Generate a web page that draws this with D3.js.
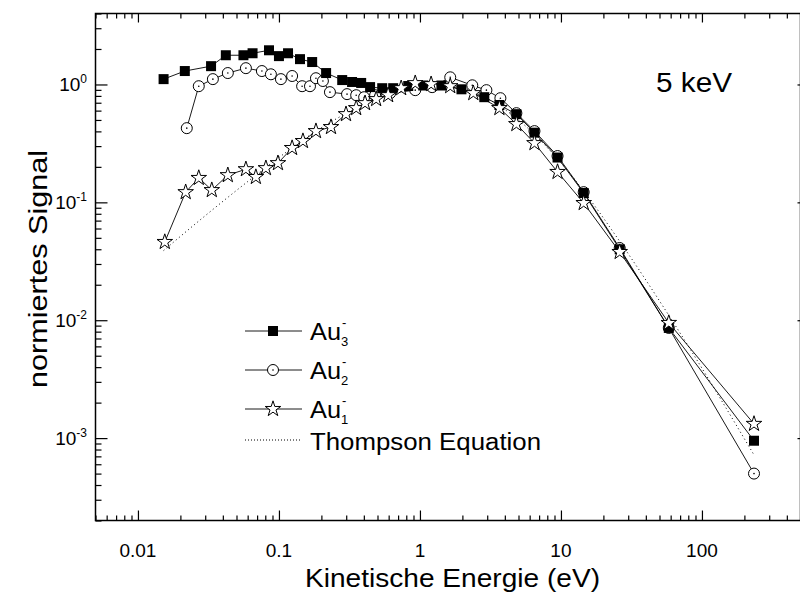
<!DOCTYPE html>
<html>
<head>
<meta charset="utf-8">
<script src="https://cdn.jsdelivr.net/npm/d3@7"></script>
<style>
  body { margin: 0; background: #fff; }
  svg text { font-family: "Liberation Sans", Arial, sans-serif; fill: #000; }
</style>
</head>
<body>
<svg id="chart"></svg>
<script>
// energies (eV) and normalised signal
const au3E = [0.0152, 0.0215, 0.033, 0.042, 0.056, 0.065, 0.085, 0.1, 0.116, 0.141, 0.172, 0.216, 0.281, 0.33, 0.383, 0.443, 0.54, 0.646, 0.826, 1.055, 1.42, 1.97, 2.86, 3.66, 4.83, 6.49, 9.46, 14.5, 26.1, 58.2, 234];
const au3S = [1.11, 1.30, 1.43, 1.77, 1.77, 1.84, 1.95, 1.74, 1.84, 1.64, 1.55, 1.25, 1.09, 1.05, 1.03, 0.95, 0.93, 0.93, 0.97, 0.98, 0.98, 0.91, 0.78, 0.67, 0.56, 0.39, 0.24, 0.12, 0.040, 0.0086, 0.00095];

const au2E = [0.0222, 0.027, 0.034, 0.0434, 0.0583, 0.0757, 0.0877, 0.1033, 0.124, 0.146, 0.166, 0.183, 0.205, 0.23, 0.304, 0.353, 0.402, 0.481, 0.615, 0.926, 1.22, 1.64, 2.35, 2.96, 3.72, 4.83, 6.49, 9.46, 14.5, 26.1, 58.2, 234];
const au2S = [0.426, 0.967, 1.11, 1.25, 1.375, 1.30, 1.22, 1.11, 1.18, 0.967, 0.967, 1.13, 1.07, 0.861, 0.828, 0.811, 0.78, 0.811, 0.844, 0.895, 0.949, 1.15, 0.984, 0.895, 0.765, 0.571, 0.402, 0.247, 0.122, 0.041, 0.0086, 0.0005];

const au1E = [0.0155, 0.0218, 0.027, 0.0334, 0.0434, 0.0583, 0.0686, 0.0808, 0.0984, 0.124, 0.148, 0.183, 0.234, 0.299, 0.353, 0.408, 0.489, 0.595, 0.736, 0.926, 1.20, 1.64, 2.39, 3.66, 4.83, 6.49, 9.46, 14.5, 26.1, 58.2, 234];
const au1S = [0.0461, 0.122, 0.161, 0.127, 0.170, 0.191, 0.164, 0.195, 0.215, 0.289, 0.331, 0.402, 0.435, 0.560, 0.630, 0.694, 0.751, 0.811, 0.930, 1.026, 1.006, 0.967, 0.844, 0.630, 0.461, 0.318, 0.181, 0.0986, 0.0379, 0.00948, 0.00132];

const thompE = [0.0152, 0.03, 0.06, 0.1, 0.2, 0.3, 0.5, 1, 1.5, 2, 3, 5, 10, 15, 26, 60, 234];
const thompS = [0.039, 0.077, 0.150, 0.24, 0.43, 0.57, 0.78, 0.98, 0.99, 0.93, 0.76, 0.50, 0.216, 0.118, 0.047, 0.0104, 0.00072];

const xTickVals = [0.01, 0.1, 1, 10, 100];
const yTickExps = [0, -1, -2, -3];
const legendNames = ["Au3", "Au2", "Au1", "Thompson Equation"];

const W = 800, H = 594;
const L = 95.5, R = 800.5, T = 13.5, B = 520.5;

const svg = d3.select("#chart").attr("width", W).attr("height", H);

const x = d3.scaleLog().domain([0.005, 500]).range([L, R]);
const y = d3.scaleLog().domain([2e-4, 4]).range([B, T]);

// minor tick lists
const xMinor = [];
for (let d = -3; d <= 2; d++) for (let m = 2; m <= 9; m++) {
  const v = m * Math.pow(10, d);
  if (v >= 0.005 && v <= 500) xMinor.push(v);
}
const yMinor = [];
for (let d = -4; d <= 0; d++) for (let m = 2; m <= 9; m++) {
  const v = m * Math.pow(10, d);
  if (v >= 2e-4 && v <= 4) yMinor.push(v);
}

function axisStyle(g) {
  g.select(".domain").remove();
  g.selectAll("line").attr("stroke", "#000").attr("stroke-width", 1.2);
  g.selectAll("text").remove();
}

// bottom
svg.append("g").attr("transform", `translate(0,${B})`)
  .call(d3.axisBottom(x).tickValues(xMinor).tickSize(-5)).call(axisStyle);
svg.append("g").attr("transform", `translate(0,${B})`)
  .call(d3.axisBottom(x).tickValues(xTickVals).tickSize(-10)).call(axisStyle);
// top
svg.append("g").attr("transform", `translate(0,${T})`)
  .call(d3.axisTop(x).tickValues(xMinor).tickSize(-5)).call(axisStyle);
svg.append("g").attr("transform", `translate(0,${T})`)
  .call(d3.axisTop(x).tickValues(xTickVals).tickSize(-9)).call(axisStyle);
// left
svg.append("g").attr("transform", `translate(${L},0)`)
  .call(d3.axisLeft(y).tickValues(yMinor).tickSize(-6)).call(axisStyle);
svg.append("g").attr("transform", `translate(${L},0)`)
  .call(d3.axisLeft(y).tickValues(yTickExps.map(e => Math.pow(10, e))).tickSize(-12)).call(axisStyle);
// right
svg.append("g").attr("transform", `translate(${R},0)`)
  .call(d3.axisRight(y).tickValues(yTickExps.map(e => Math.pow(10, e))).tickSize(-3)).call(axisStyle);

svg.append("rect").attr("x", L).attr("y", T).attr("width", R - L).attr("height", B - T)
  .attr("fill", "none").attr("stroke", "#000").attr("stroke-width", 1.5);

// tick labels
svg.append("g").selectAll("text").data(xTickVals).join("text")
  .attr("x", d => x(d)).attr("y", 557).attr("text-anchor", "middle")
  .attr("font-size", 19).text(d => d3.format("")(d));

const yl = svg.append("g").selectAll("text").data(yTickExps).join("text")
  .attr("x", 87).attr("y", d => y(Math.pow(10, d)) + 7).attr("text-anchor", "end")
  .attr("font-size", 19);
yl.append("tspan").text("10");
yl.append("tspan").attr("dy", -8).attr("font-size", 12).text(d => d === 0 ? "0" : "-" + (-d));

// axis titles
svg.append("text").attr("x", 305).attr("y", 587)
  .attr("font-size", 25).attr("textLength", 295).attr("lengthAdjust", "spacingAndGlyphs")
  .text("Kinetische Energie (eV)");
svg.append("text").attr("transform", "translate(47,388) rotate(-90)")
  .attr("font-size", 25).attr("textLength", 238).attr("lengthAdjust", "spacingAndGlyphs")
  .text("normiertes Signal");

svg.append("text").attr("x", 656).attr("y", 92).attr("font-size", 28)
  .attr("textLength", 76).attr("lengthAdjust", "spacingAndGlyphs").text("5 keV");

// lines
const plot = svg.append("g");
const line = d3.line().x(d => x(d[0])).y(d => y(d[1]));
const smooth = d3.line().x(d => x(d[0])).y(d => y(d[1])).curve(d3.curveMonotoneX);

plot.append("path").datum(thompE.map((e, i) => [e, thompS[i]]))
  .attr("d", smooth).attr("fill", "none").attr("stroke", "#000")
  .attr("stroke-width", 1).attr("stroke-dasharray", "1,3");

const au2 = au2E.map((e, i) => [e, au2S[i]]);
const au3 = au3E.map((e, i) => [e, au3S[i]]);
const au1 = au1E.map((e, i) => [e, au1S[i]]);

[au2, au3, au1].forEach(s => {
  plot.append("path").datum(s).attr("d", line).attr("fill", "none")
    .attr("stroke", "#000").attr("stroke-width", 0.9);
});

const starPath = d3.symbol(d3.symbolStar, 75)();
const sqPath = d3.symbol(d3.symbolSquare, 100)();

function drawCircle(g, cx, cy) {
  g.append("circle").attr("cx", cx).attr("cy", cy).attr("r", 5.5)
    .attr("fill", "#fff").attr("stroke", "#000").attr("stroke-width", 1);
  g.append("circle").attr("cx", cx).attr("cy", cy).attr("r", 0.8).attr("fill", "#000");
}
function drawSquare(g, cx, cy) {
  g.append("path").attr("d", sqPath).attr("transform", `translate(${cx},${cy})`).attr("fill", "#000");
}
function drawStar(g, cx, cy) {
  g.append("path").attr("d", starPath).attr("transform", `translate(${cx},${cy})`)
    .attr("fill", "#fff").attr("stroke", "#000").attr("stroke-width", 1);
}

au2.forEach(d => drawCircle(plot, x(d[0]), y(d[1])));
au3.forEach(d => drawSquare(plot, x(d[0]), y(d[1])));
au1.forEach(d => drawStar(plot, x(d[0]), y(d[1])));

// legend
const leg = svg.append("g");
const legY = [331, 370, 409, 440];
const legDraw = [drawSquare, drawCircle, drawStar];
legendNames.forEach((name, i) => {
  const yy = legY[i];
  if (i < 3) {
    leg.append("line").attr("x1", 245).attr("x2", 302).attr("y1", yy).attr("y2", yy)
      .attr("stroke", "#000").attr("stroke-width", 0.9);
    legDraw[i](leg, 273, yy);
    leg.append("text").attr("x", 310).attr("y", yy + 9).attr("font-size", 24)
      .attr("textLength", 31).attr("lengthAdjust", "spacingAndGlyphs").text("Au");
    leg.append("text").attr("x", 341).attr("y", yy + 15).attr("font-size", 13).text(name.slice(2));
    leg.append("text").attr("x", 342).attr("y", yy - 4).attr("font-size", 13).text("-");
  } else {
    leg.append("line").attr("x1", 245).attr("x2", 302).attr("y1", yy).attr("y2", yy)
      .attr("stroke", "#000").attr("stroke-width", 1).attr("stroke-dasharray", "1,2");
    leg.append("text").attr("x", 310).attr("y", yy + 10).attr("font-size", 23)
      .attr("textLength", 231).attr("lengthAdjust", "spacingAndGlyphs").text(name);
  }
});
</script>
</body>
</html>
